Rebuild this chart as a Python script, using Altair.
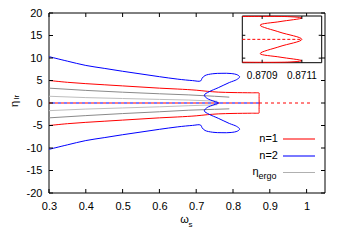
import altair as alt
import pandas as pd

# ---------------- data ----------------
# n=1 curve (upper branch -> right edge -> lower branch)
red_w = [0.30, 0.35, 0.40, 0.45, 0.50, 0.55, 0.60, 0.65, 0.70, 0.73, 0.76, 0.80, 0.85,
         0.8708, 0.87104, 0.8711, 0.87099, 0.87089, 0.87099, 0.8711, 0.87099, 0.87089,
         0.87099, 0.8711, 0.87104, 0.8708,
         0.85, 0.80, 0.76, 0.73, 0.70, 0.65, 0.60, 0.55, 0.50, 0.45, 0.40, 0.35, 0.30]
red_eta = [5.0, 4.6, 4.3, 4.05, 3.8, 3.55, 3.3, 3.1, 2.85, 2.6, 2.42, 2.32, 2.27,
           2.25, 2.23, 2.1, 1.75, 1.4, 0.7, 0.0, -0.7, -1.4,
           -1.75, -2.1, -2.23, -2.25,
           -2.27, -2.32, -2.42, -2.6, -2.85, -3.1, -3.3, -3.55, -3.8, -4.05, -4.3, -4.6, -5.0]

# n=2 curve
blue_w = [0.30, 0.35, 0.40, 0.45, 0.50, 0.55, 0.60, 0.65, 0.69, 0.712,
          0.716, 0.724, 0.745, 0.77, 0.795, 0.812, 0.818, 0.81, 0.79, 0.76, 0.735, 0.722,
          0.73, 0.748, 0.761,
          0.748, 0.73, 0.722, 0.735, 0.76, 0.79, 0.81, 0.818, 0.812, 0.795, 0.77, 0.745,
          0.724, 0.716, 0.712, 0.69, 0.65, 0.60, 0.55, 0.50, 0.45, 0.40, 0.35, 0.30]
blue_eta = [10.3, 9.3, 8.35, 7.7, 7.05, 6.45, 5.85, 5.3, 4.98, 4.9,
            5.5, 6.1, 6.5, 6.6, 6.55, 6.25, 5.8, 5.2, 4.55, 3.4, 2.5, 1.75,
            1.0, 0.4, 0.0,
            -0.4, -1.0, -1.75, -2.5, -3.4, -4.55, -5.2, -5.8, -6.25, -6.55, -6.6, -6.5,
            -6.1, -5.5, -4.9, -4.98, -5.3, -5.85, -6.45, -7.05, -7.7, -8.35, -9.3, -10.3]

# eta_ergo curves
ergo_out_w = [0.30, 0.40, 0.50, 0.60, 0.68, 0.75, 0.79]
ergo_up_out = [3.3, 2.8, 2.4, 2.05, 1.8, 1.5, 1.3]
ergo_lo_out = [-3.3, -2.8, -2.35, -1.95, -1.6, -1.4, -1.3]
ergo_in_w = [0.30, 0.40, 0.50, 0.60, 0.68, 0.757]
ergo_up_in = [1.5, 1.2, 1.0, 0.8, 0.65, 0.4]
ergo_lo_in = [-1.7, -1.35, -1.1, -0.85, -0.6, -0.4]

# eta = 0 branches
zero_red_w = [0.30, 1.01]
zero_blue_w = [0.30, 0.871]
inset_zero_w = [0.8708, 0.8711]

# ticks / labels
x_ticks = [0.3, 0.4, 0.5, 0.6, 0.7, 0.8, 0.9, 1.0]
y_ticks = [-20, -15, -10, -5, 0, 5, 10, 15, 20]
inset_x_ticks = [0.8709, 0.8711]
inset_x_labels = ["0.8709", "0.8711"]
inset_y_ticks = [0.4, -1.85]
legend_labels = ["n=1", "n=2"]
legend_colors = ["#ff2020", "#2020ff"]

# ---------------- chart ----------------
W, H = 276, 180
FONT = "Liberation Sans"
RED, BLUE = "#ff0000", "#0000ff"

xs = alt.Scale(domain=[0.3, 1.05], nice=False, zero=False)
ys = alt.Scale(domain=[-20, 20], nice=False, zero=False)
x_axis = alt.Axis(values=x_ticks, labelExpr="'' + datum.value", ticks=False, domain=False,
                  grid=False, title=None, labelPadding=7, labelFontSize=11, labelFont=FONT,
                  labelColor="black", labelFlush=False, offset=0)
y_axis = alt.Axis(values=y_ticks, labelExpr="'' + datum.value", ticks=False, domain=False,
                  grid=False, title=None, labelPadding=7, labelFontSize=11, labelFont=FONT,
                  labelColor="black", labelFlush=False, offset=0)


def X():
    return alt.X("w:Q", scale=xs, axis=x_axis)


def Y():
    return alt.Y("eta:Q", scale=ys, axis=y_axis)


red_df = pd.DataFrame({"w": red_w, "eta": red_eta, "i": range(len(red_w))})
blue_df = pd.DataFrame({"w": blue_w, "eta": blue_eta, "i": range(len(blue_w))})

ergo_rows = []
for g, ws, es in [("uo", ergo_out_w, ergo_up_out), ("lo", ergo_out_w, ergo_lo_out),
                  ("ui", ergo_in_w, ergo_up_in), ("li", ergo_in_w, ergo_lo_in)]:
    for w, e in zip(ws, es):
        ergo_rows.append({"w": w, "eta": e, "g": g})
ergo_df = pd.DataFrame(ergo_rows)
ergo_color = {"uo": "#8a8a8a", "lo": "#8a8a8a", "ui": "#bdbdbd", "li": "#bdbdbd"}

one = pd.DataFrame({"a": [0]})

# plot border drawn in the main scales
border = alt.Chart(one).mark_rect(fill=None, stroke="black", strokeWidth=1).encode(
    x=alt.X(datum=0.3, type="quantitative", scale=xs, axis=x_axis),
    x2=alt.X2(datum=1.05),
    y=alt.Y(datum=-20, type="quantitative", scale=ys, axis=y_axis),
    y2=alt.Y2(datum=20))

ergo_layers = [
    alt.Chart(ergo_df[ergo_df["g"] == g]).mark_line(
        strokeWidth=1, interpolate="monotone").encode(X(), Y(), color=alt.value(c))
    for g, c in ergo_color.items()
]

zero_red = alt.Chart(pd.DataFrame({"w": zero_red_w, "eta": [0, 0]})).mark_line(
    strokeWidth=1, strokeDash=[3, 3]).encode(X(), Y(), color=alt.value(RED))
zero_blue = alt.Chart(pd.DataFrame({"w": zero_blue_w, "eta": [0, 0]})).mark_line(
    strokeWidth=1, strokeDash=[3, 3], strokeDashOffset=3).encode(X(), Y(), color=alt.value(BLUE))

red = alt.Chart(red_df).mark_line(strokeWidth=1, interpolate="catmull-rom",
                                  clip=True).encode(X(), Y(), order="i:Q", color=alt.value(RED))
blue = alt.Chart(blue_df).mark_line(strokeWidth=1, interpolate="catmull-rom",
                                    clip=True).encode(X(), Y(), order="i:Q", color=alt.value(BLUE))

xt_df = pd.DataFrame({"w": x_ticks})
yt_df = pd.DataFrame({"eta": y_ticks})
TL = 4
tick_layers = [
    alt.Chart(xt_df).mark_rule(strokeWidth=1).encode(
        x=X(), y=alt.value(H), y2=alt.value(H - TL), color=alt.value("black")),
    alt.Chart(xt_df).mark_rule(strokeWidth=1).encode(
        x=X(), y=alt.value(0), y2=alt.value(TL), color=alt.value("black")),
    alt.Chart(yt_df).mark_rule(strokeWidth=1).encode(
        y=Y(), x=alt.value(0), x2=alt.value(TL), color=alt.value("black")),
    alt.Chart(yt_df).mark_rule(strokeWidth=1).encode(
        y=Y(), x=alt.value(W), x2=alt.value(W - TL), color=alt.value("black")),
]

legend_layers = []
row_y = [126, 143, 159.5]
for lab, col, ry in zip(legend_labels, legend_colors, row_y[:2]):
    legend_layers.append(alt.Chart(one).mark_text(
        text=lab, align="right", baseline="middle", fontSize=11, font=FONT
    ).encode(x=alt.value(229), y=alt.value(ry), color=alt.value("black")))
    legend_layers.append(alt.Chart(one).mark_rule(strokeWidth=1.2).encode(
        x=alt.value(234), x2=alt.value(266), y=alt.value(ry), color=alt.value(col)))
legend_layers.append(alt.Chart(one).mark_text(
    text="η", align="right", baseline="middle", fontSize=11, font=FONT
).encode(x=alt.value(209.5), y=alt.value(row_y[2] - 1), color=alt.value("black")))
legend_layers.append(alt.Chart(one).mark_text(
    text="ergo", align="left", baseline="middle", fontSize=9, font=FONT
).encode(x=alt.value(209.5), y=alt.value(row_y[2] + 3), color=alt.value("black")))
legend_layers.append(alt.Chart(one).mark_rule(strokeWidth=1).encode(
    x=alt.value(234), x2=alt.value(266), y=alt.value(row_y[2]), color=alt.value("#b0b0b0")))

title_layers = [
    alt.Chart(one).mark_text(text="ω", align="center", baseline="middle", fontSize=11,
                             font=FONT).encode(
        x=alt.value(135.5), y=alt.value(206.5), color=alt.value("black")),
    alt.Chart(one).mark_text(text="s", align="left", baseline="middle", fontSize=8,
                             font=FONT).encode(
        x=alt.value(139.5), y=alt.value(211.5), color=alt.value("black")),
    alt.Chart(one).mark_text(text="η", align="center", baseline="middle", fontSize=11,
                             angle=270, font=FONT).encode(
        x=alt.value(-34.5), y=alt.value(91), color=alt.value("black")),
    alt.Chart(one).mark_text(text="lr", align="center", baseline="middle", fontSize=8,
                             angle=270, font=FONT).encode(
        x=alt.value(-32), y=alt.value(84), color=alt.value("black")),
]

main = alt.layer(border, *ergo_layers, zero_red, zero_blue, red, blue, *tick_layers,
                 *legend_layers, *title_layers)

# ---------------- inset ----------------
ixs = alt.Scale(domain=[0.8708, 0.8712], range=[193.3, 272.7], nice=False, zero=False)
iys = alt.Scale(domain=[-2.3, 2.3], range=[49.7, 3], nice=False, zero=False)
IL, IR, IT, IB = 193.3, 272.7, 3, 49.7


def IX(field="w:Q"):
    return alt.X(field, scale=ixs, axis=None)


def IY(field="eta:Q"):
    return alt.Y(field, scale=iys, axis=None)


frame = alt.Chart(one).mark_rect(fill="white", stroke="black", strokeWidth=1).encode(
    x=alt.X(datum=0.8708, type="quantitative", scale=ixs, axis=None),
    x2=alt.X2(datum=0.8712),
    y=alt.Y(datum=-2.3, type="quantitative", scale=iys, axis=None),
    y2=alt.Y2(datum=2.3))

inset_red = alt.Chart(red_df).transform_filter("datum.w >= 0.8708").mark_line(
    strokeWidth=1, interpolate="catmull-rom").encode(IX(), IY(), order="i:Q",
                                                     color=alt.value(RED))
inset_zero = alt.Chart(pd.DataFrame({"w": inset_zero_w, "eta": [0, 0]})).mark_line(
    strokeWidth=1, strokeDash=[3, 2]).encode(IX(), IY(), color=alt.value(RED))

ixt_df = pd.DataFrame({"w": inset_x_ticks, "lab": inset_x_labels})
iyt_df = pd.DataFrame({"eta": inset_y_ticks})
inset_ticks = [
    alt.Chart(ixt_df).mark_rule().encode(x=IX(), y=alt.value(IB), y2=alt.value(IB - 3),
                                         color=alt.value("black")),
    alt.Chart(ixt_df).mark_rule().encode(x=IX(), y=alt.value(IT), y2=alt.value(IT + 3),
                                         color=alt.value("black")),
    alt.Chart(iyt_df).mark_rule().encode(y=IY(), x=alt.value(IL), x2=alt.value(IL + 3),
                                         color=alt.value("black")),
    alt.Chart(iyt_df).mark_rule().encode(y=IY(), x=alt.value(IR), x2=alt.value(IR - 3),
                                         color=alt.value("black")),
    alt.Chart(ixt_df).mark_text(baseline="top", fontSize=10, font=FONT).encode(
        x=IX(), y=alt.value(58), text="lab:N", color=alt.value("black")),
]

inset = alt.layer(frame, inset_zero, inset_red, *inset_ticks)

chart = alt.layer(main, inset).resolve_scale(x="independent", y="independent").properties(
    width=W, height=H,
    autosize=alt.AutoSizeParams(type="none"),
    padding={"left": 41, "top": 5, "right": 13, "bottom": 41},
).configure_view(stroke=None).configure_text(font=FONT)

chart.save("out.html", embed_options={"renderer": "svg", "actions": False})
